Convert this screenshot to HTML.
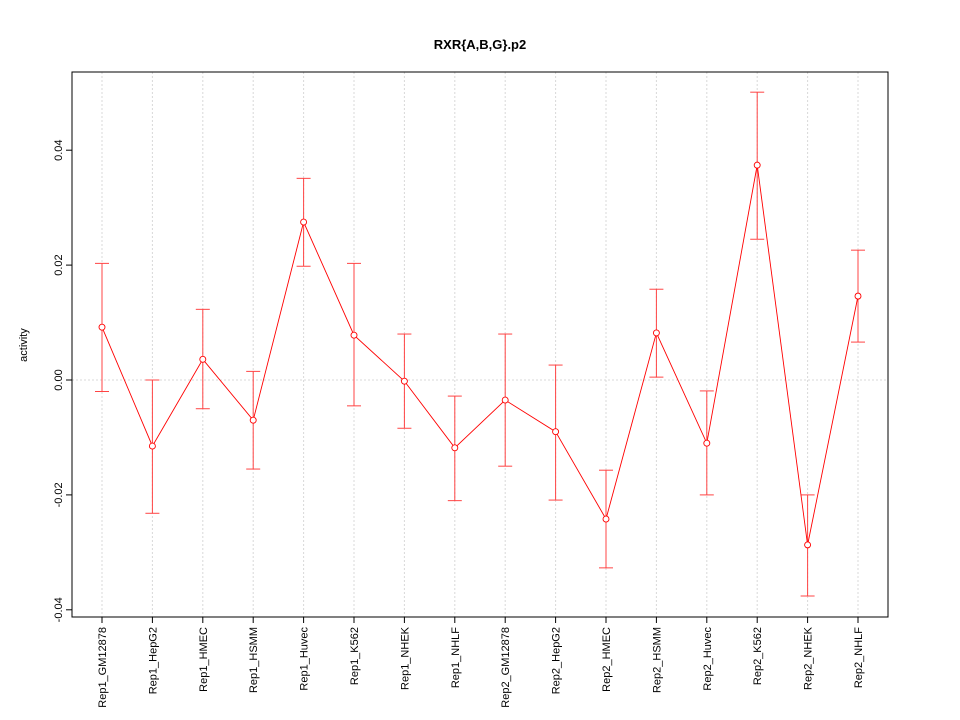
<!DOCTYPE html>
<html><head><meta charset="utf-8"><style>body{margin:0;background:#fff}svg{display:block;font-family:"Liberation Sans",sans-serif}</style></head>
<body>
<svg id="chart" width="960" height="720"></svg>
<script>
const categories=["Rep1_GM12878","Rep1_HepG2","Rep1_HMEC","Rep1_HSMM","Rep1_Huvec","Rep1_K562","Rep1_NHEK","Rep1_NHLF","Rep2_GM12878","Rep2_HepG2","Rep2_HMEC","Rep2_HSMM","Rep2_Huvec","Rep2_K562","Rep2_NHEK","Rep2_NHLF"];
const values=[0.0092,-0.0115,0.0036,-0.007,0.0275,0.0078,-0.0002,-0.0118,-0.0035,-0.009,-0.0242,0.0082,-0.011,0.0374,-0.0287,0.0146];
const upper=[0.0203,0.0,0.0123,0.0015,0.0351,0.0203,0.008,-0.0028,0.008,0.0026,-0.0157,0.0158,-0.0019,0.0501,-0.02,0.0226];
const lower=[-0.002,-0.0232,-0.005,-0.0155,0.0198,-0.0045,-0.0084,-0.021,-0.015,-0.0209,-0.0327,0.0005,-0.02,0.0245,-0.0376,0.0066];
const yTicks=[-0.04,-0.02,0.00,0.02,0.04];
const yTickLabels=["-0.04","-0.02","0.00","0.02","0.04"];
const svg=document.getElementById('chart');
const NS='http://www.w3.org/2000/svg';
function mk(t,a,p){const e=document.createElementNS(NS,t);for(const k in a)e.setAttribute(k,a[k]);(p||svg).appendChild(e);return e;}
const L=72,R=888,T=72,B=617;
const x=i=>102+i*(858-102)/(categories.length-1);
const y=v=>380-v*5745;
categories.forEach((c,i)=>{const g=mk('line',{x1:x(i),x2:x(i),y1:T,y2:B,stroke:'#d8d8d8','stroke-dasharray':'2,2'});

});
const g0=mk('line',{x1:L,x2:R,y1:y(0),y2:y(0),stroke:'#d8d8d8','stroke-dasharray':'2,2'});


const frame=mk('rect',{x:L,y:T,width:R-L,height:B-T,fill:'none',stroke:'#000'});


const title=mk('text',{x:480,y:49,'text-anchor':'middle','font-size':13,'font-weight':'bold'});title.textContent='RXR{A,B,G}.p2';


const yt=mk('text',{x:0,y:0,transform:'translate(27,345) rotate(-90)','text-anchor':'middle','font-size':11});yt.textContent='activity';


yTicks.forEach((v,i)=>{mk('line',{x1:L-6,x2:L,y1:y(v),y2:y(v),stroke:'#000'});
const t=mk('text',{x:0,y:0,transform:`translate(${L-10},${y(v)}) rotate(-90)`,'text-anchor':'middle','font-size':11});t.textContent=yTickLabels[i];

});
categories.forEach((c,i)=>{mk('line',{x1:x(i),x2:x(i),y1:B,y2:B+6,stroke:'#000'});
const t=mk('text',{x:0,y:0,transform:`translate(${x(i)+4},${B+10}) rotate(-90)`,'text-anchor':'end','font-size':11});t.textContent=c;

});
categories.forEach((c,i)=>{const g=mk('g',{stroke:'#f44','stroke-width':1});


mk('line',{x1:x(i),x2:x(i),y1:y(upper[i]),y2:y(lower[i])},g);
mk('line',{x1:x(i)-7,x2:x(i)+7,y1:y(upper[i]),y2:y(upper[i])},g);
mk('line',{x1:x(i)-7,x2:x(i)+7,y1:y(lower[i]),y2:y(lower[i])},g);});
const ln=mk('polyline',{points:values.map((v,i)=>x(i)+','+y(v)).join(' '),fill:'none',stroke:'#f00','stroke-width':0.9});


values.forEach((v,i)=>{const p=mk('circle',{cx:x(i),cy:y(v),r:3,fill:'#fff',stroke:'#f00','stroke-width':0.9});

});
</script>
</body></html>
